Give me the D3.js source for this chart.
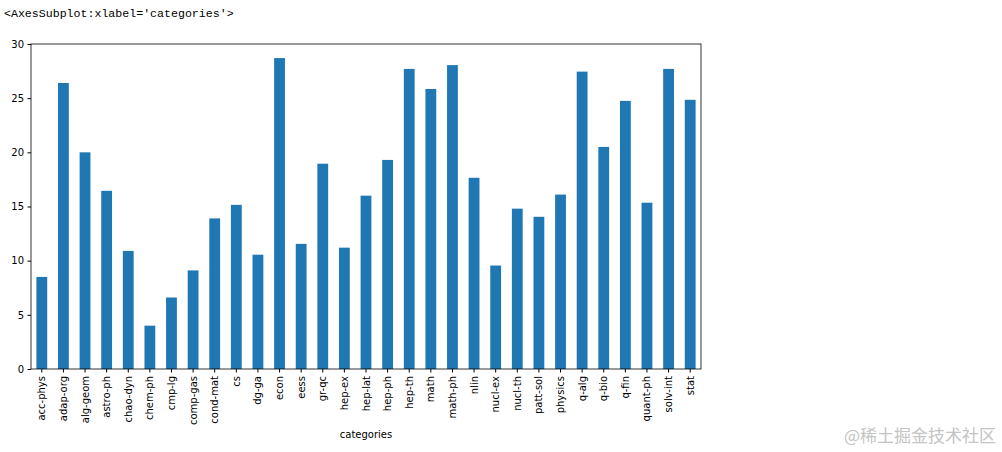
<!DOCTYPE html>
<html>
<head>
<meta charset="utf-8">
<script src="https://cdn.jsdelivr.net/npm/d3@7"></script>
<style>
  body { margin: 0; background: #fff; }
  svg text { font-family: "DejaVu Sans", sans-serif; }
</style>
</head>
<body>
<div id="chart"></div>
<script>
const categories = ["acc-phys", "adap-org", "alg-geom", "astro-ph", "chao-dyn", "chem-ph", "cmp-lg",
  "comp-gas", "cond-mat", "cs", "dg-ga", "econ", "eess", "gr-qc", "hep-ex", "hep-lat", "hep-ph",
  "hep-th", "math", "math-ph", "nlin", "nucl-ex", "nucl-th", "patt-sol", "physics", "q-alg",
  "q-bio", "q-fin", "quant-ph", "solv-int", "stat"];
const values = [8.5, 26.4, 20.0, 16.45, 10.9, 4.0, 6.6, 9.1, 13.9, 15.15, 10.55, 28.7, 11.55, 18.95,
  11.2, 16.0, 19.3, 27.7, 25.85, 28.05, 17.65, 9.55, 14.8, 14.05, 16.1, 27.45, 20.5, 24.75,
  15.35, 27.7, 24.85];
const yTicks = [0, 5, 10, 15, 20, 25, 30];
const title = "<AxesSubplot:xlabel='categories'>";

const width = 1002, height = 452;
const margin = { top: 44, right: 301, bottom: 83, left: 31 };
const innerW = width - margin.left - margin.right;
const innerH = height - margin.top - margin.bottom;

const svg = d3.select("#chart")
  .append("svg")
  .attr("width", width)
  .attr("height", height);

// notebook output line above the figure
svg.append("text")
  .attr("x", 4)
  .attr("y", 17)
  .style("font-family", "'Liberation Mono', monospace")
  .style("font-size", "11.6px")
  .attr("fill", "#000")
  .text(title);

const g = svg.append("g")
  .attr("transform", `translate(${margin.left}, ${margin.top})`);

const xScale = d3.scaleBand()
  .domain(categories)
  .range([0, innerW])
  .paddingInner(0.5)
  .paddingOuter(0.25);

const yScale = d3.scaleLinear()
  .domain([0, 30])
  .range([innerH, 0]);

// bars
g.selectAll("rect.bar")
  .data(categories)
  .join("rect")
    .attr("class", "bar")
    .attr("x", d => xScale(d))
    .attr("width", xScale.bandwidth())
    .attr("y", (d, i) => yScale(values[i]))
    .attr("height", (d, i) => innerH - yScale(values[i]))
    .attr("fill", "#1f77b4");

// x axis
const xAxis = g.append("g")
  .attr("transform", `translate(0, ${innerH})`)
  .call(d3.axisBottom(xScale).tickSize(3.5).tickPadding(3.5).tickSizeOuter(0));
xAxis.select(".domain").remove();
xAxis.selectAll("text")
  .attr("transform", "rotate(-90)")
  .attr("x", -7)
  .attr("y", 0)
  .attr("dy", "0.35em")
  .style("text-anchor", "end")
  .style("font-size", "10px")
  .attr("fill", "#000");

// y axis
const yAxis = g.append("g")
  .call(d3.axisLeft(yScale).tickValues(yTicks).tickSize(3.5).tickPadding(3.5).tickSizeOuter(0));
yAxis.select(".domain").remove();
yAxis.selectAll("text")
  .style("font-size", "10px")
  .attr("fill", "#000");

// frame
g.append("rect")
  .attr("width", innerW)
  .attr("height", innerH)
  .attr("fill", "none")
  .attr("stroke", "#000")
  .attr("stroke-width", 0.8);

g.append("text")
  .attr("x", innerW / 2)
  .attr("y", innerH + 69)
  .attr("text-anchor", "middle")
  .style("font-size", "10px")
  .text("categories");

// watermark
svg.append("text")
  .attr("x", 996)
  .attr("y", 442)
  .attr("text-anchor", "end")
  .style("font-family", "'Noto Sans CJK SC', sans-serif")
  .style("font-size", "17px")
  .attr("fill", "#c4c4c4")
  .text("@稀土掘金技术社区");
</script>
</body>
</html>
